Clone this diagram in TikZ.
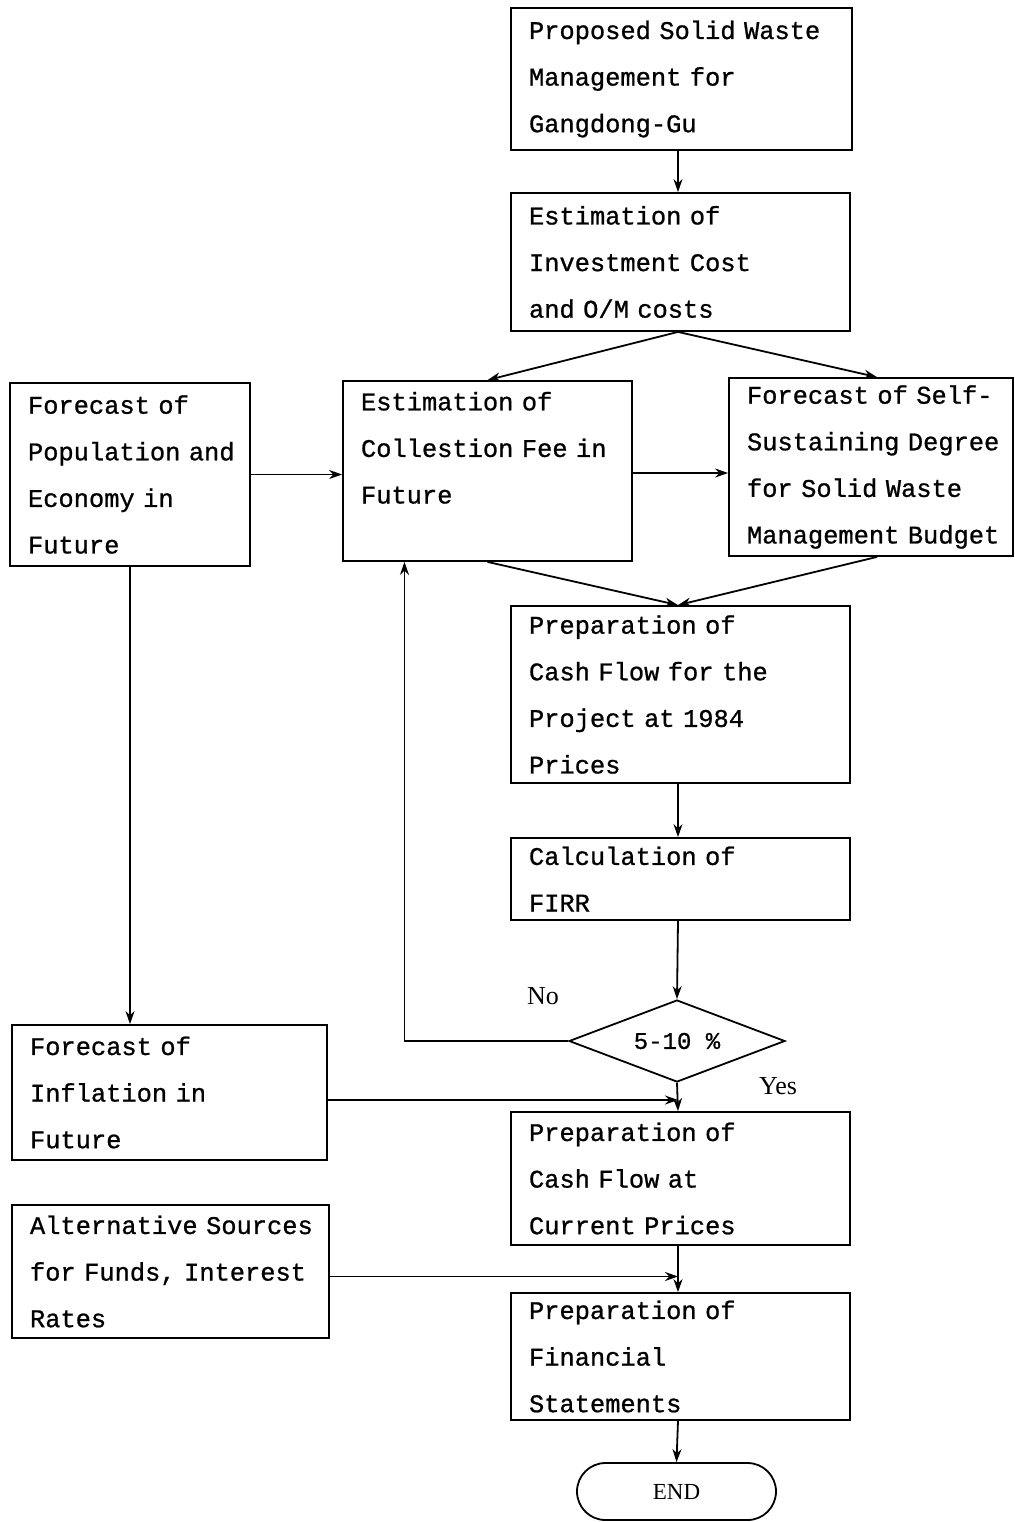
\documentclass[tikz,border=0pt]{standalone}
\usepackage{fontspec}
\setmainfont{Liberation Serif}
\newfontfamily\twfont[FakeBold=0.9]{Liberation Mono}
\DeclareRobustCommand\boxfont{\twfont\fontsize{12.7}{23.3}\selectfont}
\usetikzlibrary{shapes.geometric,shapes.misc,arrows.meta,calc}
\tikzset{
  box/.style 2 args={draw, line width=0.9pt, rectangle, align=left,
    text width=#1, minimum height=#2, inner xsep=9pt, inner ysep=0pt,
    font=\boxfont},
  arr/.style={draw, line width=0.9pt, -{Stealth[length=6.5pt,width=4.5pt]}},
  lbl/.style={font=\fontsize{13}{15}\selectfont, inner sep=0pt}
}
\begin{document}
\begin{tikzpicture}[x=0.5pt,y=-0.5pt]
\useasboundingbox (0,0) rectangle (1015,1522);
\coordinate (axis) at (678,0);
\node[box={152.5pt}{71pt}] (p1) at (681.5,79)
  {\mbox{Proposed Solid Waste}\\Management for\\Gangdong-Gu};
\node[box={151.5pt}{69pt}] (p2) at (680.5,262)
  {Estimation of\\Investment Cost\\and O/M costs};
\node[box={102pt}{91.5pt}] (p3) at (130,474.5)
  {Forecast of\\\mbox{Population and}\\Economy in\\Future};
\node[box={126.5pt}{90pt}] (p4) at (487.5,471)
  {Estimation of\\\mbox{Collestion Fee in}\\Future\\\mbox{}};
\node[box={124pt}{89pt}] (p5) at (871,467)
  {\mbox{Forecast of Self-}\\\mbox{Sustaining Degree}\\\mbox{for Solid Waste}\\\mbox{Management Budget}};
\node[box={151.5pt}{88.5pt}] (p6) at (680.5,694.5)
  {Preparation of\\Cash Flow for the\\Project at 1984\\Prices};
\node[box={151.5pt}{41pt}] (p7) at (680.5,879)
  {Calculation of\\FIRR};
\node[draw, line width=0.9pt, diamond, aspect=2.6, inner sep=0pt,
  minimum width=108pt, minimum height=41pt,
  font=\twfont\fontsize{12}{14}\selectfont] (dia) at (677,1041) {5-10 \%};
\node[box={139.5pt}{67.5pt}] (p9) at (169.5,1092.5)
  {Forecast of\\Inflation in\\Future};
\node[box={151.5pt}{66.5pt}] (p10) at (680.5,1178.5)
  {Preparation of\\Cash Flow at\\Current Prices};
\node[box={140.5pt}{66.5pt}] (p11) at (170.5,1271.5)
  {\mbox{Alternative Sources}\\\mbox{for Funds, Interest}\\Rates};
\node[box={151.5pt}{63.5pt}] (p12) at (680.5,1356.5)
  {Preparation of\\Financial\\Statements};
\node[draw, line width=0.9pt, rounded rectangle, minimum width=99.5pt,
  minimum height=28.5pt, inner sep=0pt, font=\fontsize{11.5}{14}\selectfont]
  (end) at (676.5,1491.5) {END};
\node[lbl, anchor=base] (no) at (543,1004) {No};
\node[lbl, anchor=base] (yes) at (778,1094) {Yes};
\draw[arr] (p1.south -| axis) -- (p2.north -| axis);
\draw[arr] (p2.south -| axis) -- (p4.north);
\draw[arr] (p2.south -| axis) -- ([xshift=3pt]p5.north);
\draw[arr] (p3.east) -- (p3.east -| p4.west);
\draw[arr] ([yshift=-1pt]p4.east) -- ([yshift=-1pt]p4.east -| p5.west);
\draw[arr] (p4.south) -- (p6.north -| axis);
\draw[arr] ([xshift=3pt]p5.south) -- (p6.north -| axis);
\draw[arr] (p6.south -| axis) -- (p7.north -| axis);
\draw[arr] (p7.south -| axis) -- (dia.north);
\coordinate (loopup) at ($(p4.south west)!0.2145!(p4.south east)$);
\draw[arr] (dia.west) -| (loopup);
\draw[arr] (dia.south) -- (p10.north -| axis);
\draw[arr] (p3.south) -- (p3.south |- p9.north);
\coordinate (inf) at ([yshift=-3.75pt]p9.east);
\draw[arr] (inf) -- (inf -| axis);
\draw[arr] (p10.south -| axis) -- (p12.north -| axis);
\coordinate (alt) at ([yshift=-2.5pt]p11.east);
\draw[arr] (alt) -- (alt -| axis);
\draw[arr] (p12.south -| axis) -- (end.north);
\end{tikzpicture}
\end{document}
